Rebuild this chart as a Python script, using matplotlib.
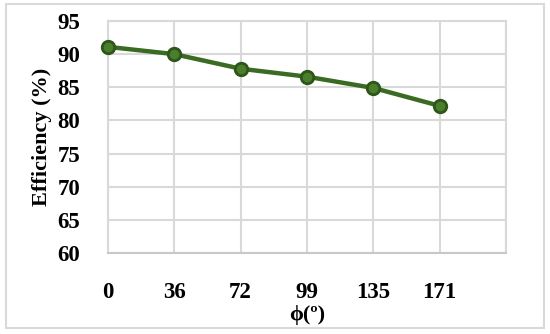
import matplotlib
matplotlib.use("Agg")
import matplotlib.pyplot as plt
from matplotlib.patches import Rectangle

# data
phi_labels = ["0", "36", "72", "99", "135", "171"]
efficiency = [91.1, 90.0, 87.8, 86.6, 84.9, 82.2]

plt.rcParams['font.family'] = ['Liberation Serif', 'DejaVu Serif']
plt.rcParams['font.weight'] = 'bold'

fig = plt.figure(figsize=(5.5, 3.34), dpi=100)
ax = fig.add_axes([108/550, 1 - 253/334, (506-108)/550, (253-21)/334])

xs = list(range(len(phi_labels)))
ax.plot(xs, efficiency, color='#3b6a22', lw=3.2, marker='o', ms=9,
        mfc='#4a7d2c', mec='#2e551a', mew=2, zorder=3, clip_on=False)

ax.set_xlim(0, len(phi_labels))
ax.set_ylim(60, 95)
ax.set_yticks(range(60, 96, 5))
ax.set_xticks(range(len(phi_labels) + 1))
ax.set_xticklabels(phi_labels + [""])
ax.tick_params(length=0, labelsize=16.5, pad=0)
ax.tick_params(axis='y', pad=20)
ax.tick_params(axis='x', pad=21)
for lab in ax.get_xticklabels() + ax.get_yticklabels():
    lab.set_fontweight('bold')

ax.grid(True, color='#d9d9d9', lw=1.5)
ax.set_axisbelow(True)
for s in ax.spines.values():
    s.set_color('#d9d9d9')
    s.set_linewidth(1.5)
ax.spines['bottom'].set_color('#c8c8c8')

ax.set_ylabel("Efficiency (%)", fontsize=16, fontweight='bold', labelpad=4)
ax.set_xlabel("ϕ(º)", fontsize=16, fontweight='bold', labelpad=1)

fig.patches.append(Rectangle((6/550, 6/334), 538/550, 324/334, transform=fig.transFigure,
                             fill=False, ec='#d9d9d9', lw=1.5))

fig.savefig("out.png", dpi=100)
